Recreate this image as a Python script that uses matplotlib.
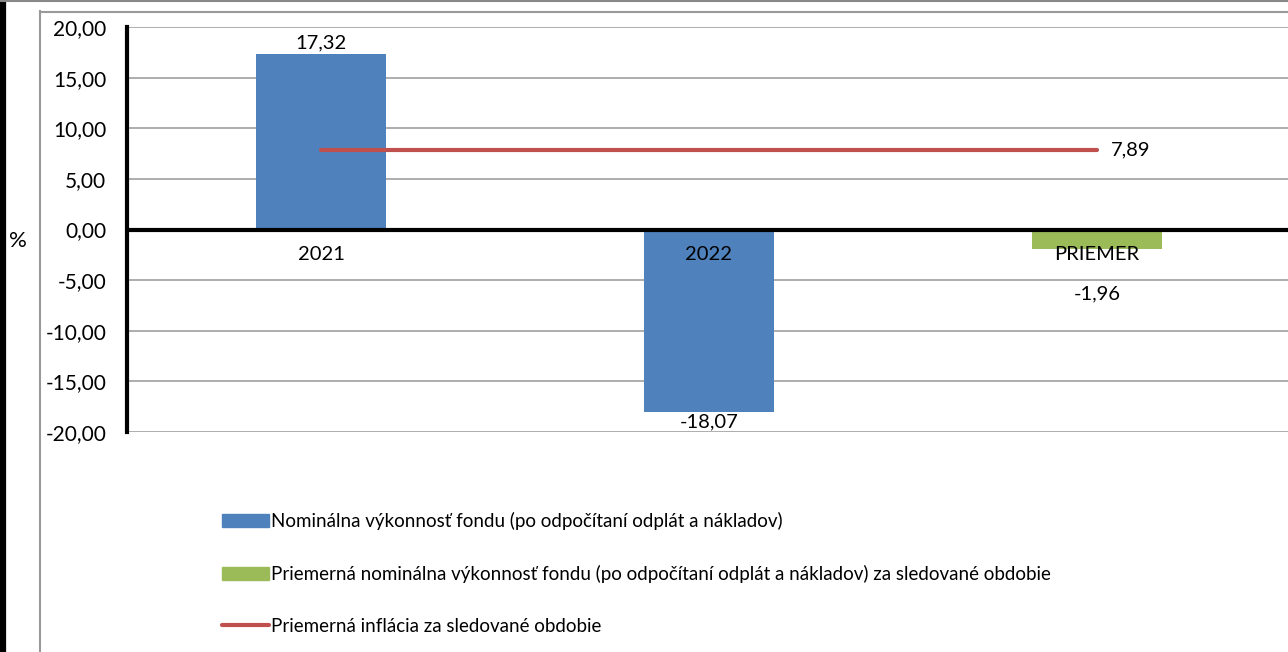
import matplotlib
matplotlib.use('Agg')
import matplotlib.pyplot as plt
from matplotlib.patches import Patch
from matplotlib.lines import Line2D
import numpy as np

plt.rcParams['font.family'] = ['Lato', 'DejaVu Sans']

## DATA ##
categories = ['2021', '2022', 'PRIEMER']
fund_perf = [17.32, -18.07]
avg_perf = -1.96
avg_inflation = 7.89
yticks = [20, 15, 10, 5, 0, -5, -10, -15, -20]
legend_labels = [
    'Nominálna výkonnosť fondu (po odpočítaní odplát a nákladov)',
    'Priemerná nominálna výkonnosť fondu (po odpočítaní odplát a nákladov) za sledované obdobie',
    'Priemerná inflácia za sledované obdobie',
]

blue = '#4F81BD'
green = '#9BBB59'
red = '#C0504D'
W, H = 1288, 652


def fmt(v):
    return f'{v:.2f}'.replace('.', ',')


fig = plt.figure(figsize=(W / 100, H / 100), dpi=100)
ax = fig.add_axes([127 / W, (H - 432) / H, (1291 - 127) / W, 405 / H])

x = np.arange(len(categories))
bw = 0.335
ax.bar(x[:2], fund_perf, width=bw, color=blue, zorder=3)
ax.bar(x[2], avg_perf, width=bw, color=green, zorder=3)
ax.plot([x[0], x[-1]], [avg_inflation, avg_inflation], color=red, lw=3,
        solid_capstyle='round', zorder=4)

ax.set_xlim(-0.5, 2.5)
ax.set_ylim(-20, 20)
ax.set_yticks(yticks)
ax.set_yticklabels([fmt(v) for v in yticks], fontsize=15)
ax.tick_params(axis='y', length=0, pad=15)
ax.set_xticks([])
ax.grid(axis='y', color='#A0A0A0', lw=1.2, zorder=0)
ax.axhline(0, color='black', lw=3, zorder=5)
for s in ['top', 'right', 'bottom']:
    ax.spines[s].set_visible(False)
ax.spines['left'].set_linewidth(3)
ax.spines['left'].set_zorder(6)

# category labels just below zero line
for i, c in enumerate(categories):
    ax.annotate(c, (x[i], 0), xytext=(0, -18), textcoords='offset points',
                ha='center', va='center', fontsize=14.5, zorder=7)

# value labels
ax.annotate(fmt(fund_perf[0]), (x[0], fund_perf[0]), xytext=(0, 2),
            textcoords='offset points', ha='center', va='bottom', fontsize=14.5)
ax.annotate(fmt(fund_perf[1]), (x[1], fund_perf[1]), xytext=(0, -1),
            textcoords='offset points', ha='center', va='top', fontsize=14.5)
ax.annotate(fmt(avg_perf), (x[2], avg_perf), xytext=(0, -32),
            textcoords='offset points', ha='center', va='center', fontsize=14.5)
ax.annotate(fmt(avg_inflation), (x[2], avg_inflation), xytext=(10, 0),
            textcoords='offset points', ha='left', va='center', fontsize=14.5)

fig.text(9 / W, 1 - 241 / H, '%', fontsize=16, ha='left', va='center')

handles = [Patch(color=blue), Patch(color=green),
           Line2D([], [], color=red, lw=3, solid_capstyle='round')]
fig.legend(handles, legend_labels, loc='upper left',
           bbox_to_anchor=(222 / W, 1 - 512 / H), frameon=False, fontsize=13.5,
           handlelength=2.5, handletextpad=0.1, labelspacing=1.85,
           borderpad=0, borderaxespad=0)

# frame lines of the chart object
fig.add_artist(Line2D([3 / W, 3 / W], [0, 1], color='black', lw=4.5,
                      transform=fig.transFigure))
fig.add_artist(Line2D([0, 1], [1 - 0.5 / H, 1 - 0.5 / H], color='#888888',
                      lw=1.5, transform=fig.transFigure))
fig.add_artist(Line2D([39.5 / W, 39.5 / W], [0, 1 - 11 / H], color='#999999',
                      lw=1.5, transform=fig.transFigure))
fig.add_artist(Line2D([39.5 / W, 1], [1 - 11.5 / H, 1 - 11.5 / H],
                      color='#999999', lw=1.5, transform=fig.transFigure))

fig.savefig('out.png', dpi=100)
